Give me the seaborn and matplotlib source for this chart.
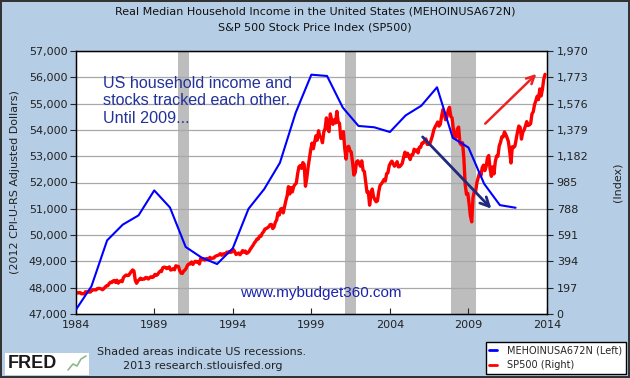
import numpy as np
import pandas as pd
import matplotlib
matplotlib.use("Agg")
import matplotlib.pyplot as plt
import seaborn as sns
from matplotlib.patches import Rectangle
from matplotlib.lines import Line2D
from matplotlib.ticker import FuncFormatter

# ---------------- data ----------------
income_years = list(range(1984, 2013))
income_values = [47150, 48050, 49800, 50400, 50750, 51700, 51050, 49550, 49150,
                 48900, 49500, 51000, 51750, 52750, 54650, 56100, 56050, 54850,
                 54150, 54100, 53920, 54550, 54920, 55620, 53700, 53330, 51950,
                 51140, 51040]

sp500_start_year = 1984
sp500_monthly = [
    163, 157, 159, 160, 151, 153, 150, 167, 166, 166, 163, 167,          # 1984
    180, 181, 181, 180, 190, 192, 191, 188, 182, 190, 202, 211,          # 1985
    212, 227, 238, 235, 247, 251, 236, 253, 231, 244, 249, 242,          # 1986
    274, 284, 292, 288, 290, 304, 319, 330, 322, 252, 230, 247,          # 1987
    257, 268, 259, 261, 262, 274, 272, 262, 272, 279, 274, 278,          # 1988
    297, 289, 295, 310, 321, 318, 346, 351, 349, 340, 346, 353,          # 1989
    329, 332, 340, 331, 361, 358, 356, 323, 306, 304, 322, 330,          # 1990
    344, 367, 375, 375, 390, 371, 388, 395, 388, 392, 375, 417,          # 1991
    409, 413, 404, 414, 415, 408, 424, 414, 418, 419, 431, 436,          # 1992
    439, 443, 452, 440, 450, 451, 448, 464, 459, 468, 462, 466,          # 1993
    482, 467, 446, 451, 457, 444, 458, 475, 463, 472, 454, 459,          # 1994
    470, 487, 501, 515, 533, 545, 562, 562, 584, 582, 605, 616,          # 1995
    636, 640, 646, 654, 669, 671, 640, 652, 687, 705, 757, 741,          # 1996
    786, 791, 757, 801, 848, 885, 954, 899, 947, 915, 955, 970,          # 1997
    980, 1049, 1102, 1112, 1091, 1134, 1121, 957, 1017, 1099, 1164, 1229,  # 1998
    1280, 1238, 1286, 1335, 1302, 1373, 1329, 1320, 1283, 1363, 1389, 1469,  # 1999
    1394, 1366, 1499, 1452, 1421, 1455, 1431, 1518, 1437, 1429, 1315, 1320,  # 2000
    1366, 1240, 1160, 1249, 1256, 1224, 1211, 1134, 1041, 1060, 1139, 1148,  # 2001
    1130, 1107, 1147, 1077, 1067, 990, 912, 916, 815, 886, 936, 880,         # 2002
    856, 841, 848, 917, 964, 975, 990, 1008, 996, 1051, 1058, 1112,          # 2003
    1131, 1145, 1126, 1107, 1121, 1141, 1102, 1104, 1115, 1130, 1174, 1212,  # 2004
    1181, 1204, 1181, 1157, 1192, 1191, 1234, 1220, 1229, 1207, 1249, 1248,  # 2005
    1280, 1281, 1295, 1311, 1270, 1270, 1277, 1304, 1336, 1378, 1401, 1418,  # 2006
    1438, 1407, 1421, 1482, 1531, 1503, 1455, 1474, 1527, 1549, 1481, 1468,  # 2007
    1379, 1331, 1323, 1386, 1400, 1280, 1267, 1283, 1166, 969, 896, 903,     # 2008
    826, 735, 690, 873, 919, 919, 987, 1021, 1057, 1036, 1096, 1115,         # 2009
    1074, 1104, 1169, 1187, 1089, 1031, 1102, 1049, 1141, 1183, 1181, 1258,  # 2010
    1286, 1327, 1326, 1364, 1345, 1321, 1292, 1219, 1131, 1253, 1247, 1258,  # 2011
    1312, 1366, 1408, 1398, 1310, 1362, 1379, 1407, 1441, 1412, 1416, 1426,  # 2012
    1498, 1515, 1569, 1598, 1631, 1606, 1686, 1633, 1682, 1757, 1795,        # 2013
]

recession_starts = [1990.5, 2001.17, 2007.92]
recession_ends = [1991.2, 2001.84, 2009.46]

x_ticks = [1984, 1989, 1994, 1999, 2004, 2009, 2014]
left_ticks = list(range(47000, 57001, 1000))
right_ticks = list(range(0, 1971, 197))

title_lines = ["Real Median Household Income in the United States (MEHOINUSA672N)",
               "S&P 500 Stock Price Index (SP500)"]

# ---------------- frames ----------------
inc_df = pd.DataFrame({"year": income_years, "value": income_values})
sp_x = [sp500_start_year + (i + 0.5) / 12 for i in range(len(sp500_monthly))]
sp_df = pd.DataFrame({"year": sp_x, "value": sp500_monthly})

# ---------------- style ----------------
sns.set_style("white")
plt.rcParams["font.family"] = ["DejaVu Sans"]
BG = "#B5CDE5"

W, H = 630, 378
fig = plt.figure(figsize=(W / 100, H / 100), dpi=100, facecolor=BG)
fig.patch.set_edgecolor("#333333")
fig.patch.set_linewidth(1.5)

L, R, T, B = 75.7, 547, 51, 314
ax2 = fig.add_axes([L / W, 1 - B / H, (R - L) / W, (B - T) / H])
ax = ax2.twinx()
ax2.yaxis.tick_right()

# right axis (S&P) drawn underneath
ax2.set_facecolor("white")
for s, e in zip(recession_starts, recession_ends):
    ax2.axvspan(s, e, color="#BDBDBD", lw=0, zorder=0.5)
sns.lineplot(data=sp_df, x="year", y="value", ax=ax2, color="#FF0000",
             linewidth=2.4, zorder=3)
ax2.set_ylim(0, 1970)
ax2.set_yticks(right_ticks)
ax2.grid(axis="y", color="#A8A8A8", linewidth=0.9, zorder=1)
ax2.set_axisbelow(True)
ax2.yaxis.set_major_formatter(FuncFormatter(lambda v, p: f"{v:,.0f}"))
ax2.yaxis.set_label_position("right")
ax2.set_ylabel("(Index)", fontsize=8, color="#222222", labelpad=17, rotation=90)

# left axis (income) on top
ax.set_zorder(ax2.get_zorder() + 1)
ax.patch.set_visible(False)
ax.yaxis.tick_left()
ax.yaxis.set_label_position("left")
sns.lineplot(data=inc_df, x="year", y="value", ax=ax, color="#0000FF",
             linewidth=1.5, zorder=4)
ax.set_ylim(47000, 57000)
ax.set_yticks(left_ticks)
ax.yaxis.set_major_formatter(FuncFormatter(lambda v, p: f"{v:,.0f}"))
ax.set_ylabel("(2012 CPI-U-RS Adjusted Dollars)", fontsize=8, color="#222222",
              labelpad=6)
ax.set_xlim(1984, 2014)
ax.set_xticks(x_ticks)
ax2.set_xlim(1984, 2014)
ax2.set_xticks(x_ticks)
ax2.set_xlabel("")
ax.set_xlabel("")
ax.grid(False)

for a in (ax, ax2):
    for sp in a.spines.values():
        sp.set_visible(True)
        sp.set_color("black")
        sp.set_linewidth(0.9)

ax.tick_params(axis="y", which="major", direction="out", length=4, width=0.8,
               labelsize=8, labelcolor="#222222", pad=2, left=True, right=False)
ax2.tick_params(axis="y", which="major", direction="out", length=4, width=0.8,
                labelsize=8, labelcolor="#222222", pad=3, right=True, left=False,
                labelright=True, labelleft=False)
ax2.tick_params(axis="x", direction="in", length=4, width=0.8, labelsize=8,
                labelcolor="#222222", pad=4, bottom=True)
ax.tick_params(axis="x", bottom=False, labelbottom=False)

# annotations
ax.annotate("", xy=(2013.45, 56200), xytext=(2009.94, 54165),
            arrowprops=dict(arrowstyle="->", color="#EE2222", lw=1.8,
                            mutation_scale=14), zorder=6)
ax.annotate("", xy=(2010.58, 50930), xytext=(2005.96, 53810),
            arrowprops=dict(arrowstyle="->", color="#1F2A80", lw=2.0,
                            mutation_scale=16), zorder=6)
ax.text(1985.75, 56060, "US household income and\nstocks tracked each other.\nUntil 2009...",
        fontsize=11.6, color="#22329A", family=["Liberation Sans", "DejaVu Sans"],
        va="top", ha="left", linespacing=1.22, zorder=7)
ax.text(1999.6, 47800, "www.mybudget360.com", fontsize=11, color="#1A22B0",
        family=["Liberation Sans", "DejaVu Sans"], ha="center", va="center", zorder=7)

# titles
fig.text(0.5, 1 - 12 / H, title_lines[0], ha="center", va="center", fontsize=8,
         color="#111111")
fig.text(0.5, 1 - 28 / H, title_lines[1], ha="center", va="center", fontsize=8,
         color="#111111")

# footer
fig.patches.append(Rectangle((5 / W, 1 - 375 / H), 84 / W, 22 / H,
                             transform=fig.transFigure, facecolor="white",
                             edgecolor="none", zorder=1))
fig.text(8 / W, 1 - 364 / H, "FRED", fontsize=13, fontweight="bold",
         family=["Liberation Sans", "DejaVu Sans"], color="#1A1A1A",
         va="center", ha="left", zorder=2)
fig.lines.append(Line2D([68 / W, 73 / W, 77 / W, 81 / W, 86 / W],
                        [1 - 370 / H, 1 - 364 / H, 1 - 366 / H, 1 - 359 / H, 1 - 356 / H],
                        transform=fig.transFigure, color="#8DB88D", lw=1.2, zorder=2))
fig.text(97 / W, 1 - 352 / H, "Shaded areas indicate US recessions.", fontsize=8,
         color="#222222", va="center", ha="left")
fig.text(203 / W, 1 - 366 / H, "2013 research.stlouisfed.org", fontsize=8,
         color="#222222", va="center", ha="center")

handles = [Line2D([], [], color="#0000FF", lw=2), Line2D([], [], color="#FF0000", lw=2)]
leg = fig.legend(handles, ["MEHOINUSA672N (Left)", "SP500 (Right)"],
                 loc="lower right", bbox_to_anchor=(626 / W, 1 - 374 / H),
                 fontsize=7, frameon=True, fancybox=False, edgecolor="black",
                 facecolor="white", framealpha=1, handlelength=0.8,
                 handletextpad=1.0, borderpad=0.4, labelspacing=0.45,
                 borderaxespad=0)
leg.get_frame().set_linewidth(1.0)

fig.savefig("out.png", dpi=100, facecolor=BG, edgecolor="#333333")
